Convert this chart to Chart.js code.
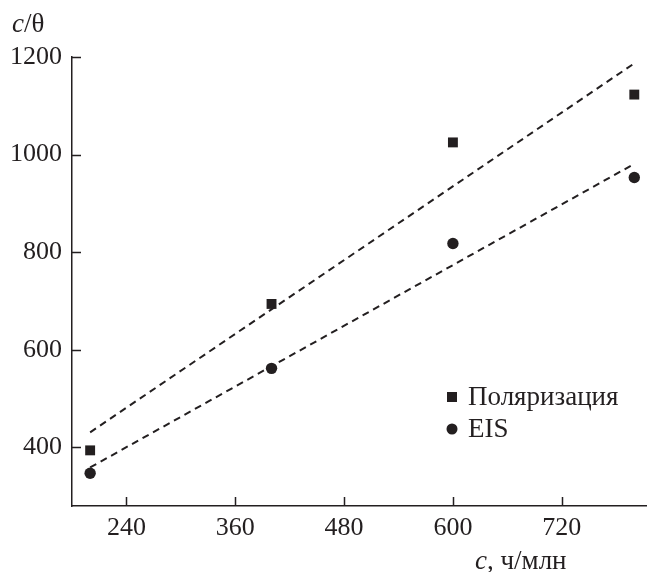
<!DOCTYPE html>
<html>
<head>
<meta charset="utf-8">
<script src="https://cdn.jsdelivr.net/npm/chart.js@4"></script>
<style>
html,body{margin:0;padding:0;background:#fff;}
#wrap{width:647px;height:572px;position:relative;}
</style>
</head>
<body>
<div id="wrap"><canvas id="c" width="647" height="572"></canvas></div>
<script>
// ---- data ----
const concentrations = [200, 400, 600, 800];
const polarizationValues = [394, 694, 1025, 1123];
const eisValues = [347, 562, 818, 953];
const fitX = [200, 800];
const polarizationFit = [431, 1187];
const eisFit = [359, 981];
const xTickValues = [240, 360, 480, 600, 720];
const yTickValues = [400, 600, 800, 1000, 1200];
const seriesLabels = ['Поляризация', 'EIS'];
const xAxisTitle = 'c, ч/млн';
const yAxisTitle = 'c/θ';

const INK = '#231f20';
const FONT = '"Liberation Serif", "Times New Roman", Times, serif';
const TEXT_SIZE = 27;

const pts = (xs, ys) => xs.map((x, i) => ({x, y: ys[i]}));

const customDraw = {
  id: 'customDraw',
  afterDraw(chart) {
    const ctx = chart.ctx;
    const xs = chart.scales.x, ys = chart.scales.y;
    ctx.save();
    ctx.strokeStyle = INK;
    ctx.lineWidth = 1.5;
    ctx.beginPath();
    xTickValues.forEach(v => {
      const px = Math.round(xs.getPixelForValue(v)) + 0.5;
      ctx.moveTo(px, ys.bottom);
      ctx.lineTo(px, ys.bottom - 9);
    });
    yTickValues.forEach(v => {
      const py = Math.round(ys.getPixelForValue(v)) + 0.5;
      ctx.moveTo(xs.left, py);
      ctx.lineTo(xs.left + 9, py);
    });
    ctx.stroke();
    ctx.fillStyle = INK;
    ctx.textBaseline = 'middle';
    ctx.textAlign = 'left';
    const it = 'italic ' + TEXT_SIZE + 'px ' + FONT;
    const rg = TEXT_SIZE + 'px ' + FONT;
    ctx.font = it;
    ctx.fillText('c', 12, 25);
    let w = ctx.measureText('c').width;
    ctx.font = rg;
    ctx.fillText(yAxisTitle.slice(1), 12 + w, 25);
    ctx.font = it;
    ctx.fillText('c', 475, 562);
    w = ctx.measureText('c').width;
    ctx.font = rg;
    ctx.fillText(xAxisTitle.slice(1), 475 + w, 562);
    const lx = 452, ly = [397, 429];
    chart.data.datasets.slice(0, 2).forEach((ds, i) => {
      ctx.fillStyle = INK;
      if (ds.pointStyle === 'rect') {
        ctx.fillRect(lx - 5, ly[i] - 5, 10, 10);
      } else {
        ctx.beginPath();
        ctx.arc(lx, ly[i], 5.5, 0, Math.PI * 2);
        ctx.fill();
      }
      ctx.fillText(ds.label, lx + 16, ly[i] + 1);
    });
    ctx.restore();
  }
};

function build() {
  new Chart(document.getElementById('c'), {
    type: 'scatter',
    data: {
      datasets: [
        {label: seriesLabels[0], data: pts(concentrations, polarizationValues), pointStyle: 'rect',
         pointRadius: 7, backgroundColor: INK, borderColor: INK, borderWidth: 0, showLine: false},
        {label: seriesLabels[1], data: pts(concentrations, eisValues), pointStyle: 'circle',
         pointRadius: 5.7, backgroundColor: INK, borderColor: INK, borderWidth: 0, showLine: false},
        {label: 'fit1', data: pts(fitX, polarizationFit), showLine: true, pointRadius: 0,
         borderColor: INK, borderWidth: 2, borderDash: [7, 5], fill: false},
        {label: 'fit2', data: pts(fitX, eisFit), showLine: true, pointRadius: 0,
         borderColor: INK, borderWidth: 2, borderDash: [7, 5], fill: false}
      ]
    },
    options: {
      responsive: false,
      animation: false,
      layout: {autoPadding: false, padding: {top: 57, right: 0, left: 0, bottom: 0}},
      plugins: {legend: {display: false}, tooltip: {enabled: false}},
      scales: {
        x: {
          type: 'linear', min: 180, max: 814,
          afterBuildTicks: s => { s.ticks = xTickValues.map(v => ({value: v})); },
          afterFit: s => { s.height = 66; s.paddingLeft = 0; s.paddingRight = 0; },
          grid: {display: false, drawTicks: false},
          border: {display: true, color: INK, width: 1.5},
          ticks: {color: INK, font: {family: FONT, size: 26}, padding: 7, maxRotation: 0,
                  callback: v => String(v)}
        },
        y: {
          type: 'linear', min: 280, max: 1200,
          afterBuildTicks: s => { s.ticks = yTickValues.map(v => ({value: v})); },
          afterFit: s => { s.width = 72; s.paddingTop = 0; s.paddingBottom = 0; },
          grid: {display: false, drawTicks: false},
          border: {display: true, color: INK, width: 1.5},
          ticks: {color: INK, font: {family: FONT, size: 26}, padding: 10,
                  callback: v => String(v)}
        }
      }
    },
    plugins: [customDraw]
  });
}
Promise.all([
  document.fonts.load('24px "Liberation Serif"'),
  document.fonts.load('italic 24px "Liberation Serif"')
]).then(build, build);
</script>
</body>
</html>
